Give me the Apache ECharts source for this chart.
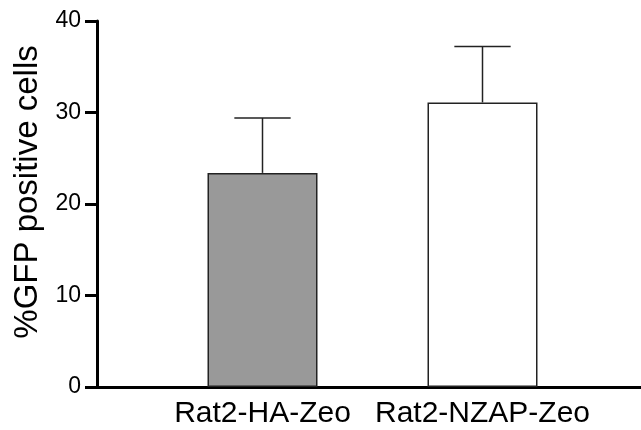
<!DOCTYPE html>
<html>
<head>
<meta charset="utf-8">
<script src="https://cdn.jsdelivr.net/npm/echarts@6/dist/echarts.min.js"></script>
<style>
  html, body { margin: 0; padding: 0; background: #fff; }
  #chart { width: 641px; height: 430px; }
</style>
</head>
<body>
<div id="chart"></div>
<script>
// data
var categories = ["Rat2-HA-Zeo", "Rat2-NZAP-Zeo"];
var means = [23.4, 31.1];
var sd = [6.0, 6.1];
var barColors = ["#999999", "#ffffff"];
var yTicks = [0, 10, 20, 30, 40];

var font = "'Liberation Sans', Arial, Helvetica, sans-serif";

var chart = echarts.init(document.getElementById("chart"));

var barData = means.map(function (m, i) {
  return { value: m, itemStyle: { color: barColors[i] } };
});
var errData = means.map(function (m, i) {
  return [i, m, m + sd[i]];
});

chart.setOption({
  animation: false,
  backgroundColor: "#fff",
  grid: [
    // axes frame
    { left: 97, right: 0, top: 21, bottom: 43 },
    // bars
    { left: 152.5, right: 48.5, top: 21, bottom: 43 }
  ],
  xAxis: [
    {
      gridIndex: 0,
      type: "value",
      min: 0,
      max: 1,
      axisLine: { show: true, onZero: false, lineStyle: { color: "#000", width: 3 } },
      axisTick: { show: false },
      axisLabel: { show: false },
      splitLine: { show: false }
    },
    {
      gridIndex: 1,
      type: "category",
      data: categories,
      axisLine: { show: false },
      axisTick: { show: false },
      axisLabel: {
        interval: 0,
        color: "#000",
        fontFamily: font,
        fontSize: 30,
        margin: 12
      }
    }
  ],
  yAxis: [
    {
      gridIndex: 0,
      type: "value",
      min: yTicks[0],
      max: yTicks[yTicks.length - 1],
      interval: 10,
      name: "%GFP positive cells",
      nameLocation: "middle",
      nameRotate: 90,
      nameGap: 50,
      nameTextStyle: {
        color: "#000",
        fontFamily: font,
        fontSize: 33,
        padding: [0, 0, 0, 24]
      },
      axisLine: { show: true, lineStyle: { color: "#000", width: 3 } },
      axisTick: { show: true, length: 12, lineStyle: { color: "#000", width: 3 } },
      axisLabel: {
        color: "#000",
        fontFamily: font,
        fontSize: 23,
        margin: 16
      },
      splitLine: { show: false }
    },
    {
      gridIndex: 1,
      type: "value",
      min: yTicks[0],
      max: yTicks[yTicks.length - 1],
      interval: 10,
      show: false
    }
  ],
  series: [
    {
      type: "bar",
      xAxisIndex: 1,
      yAxisIndex: 1,
      barWidth: "50%",
      data: barData,
      itemStyle: { borderColor: "#222", borderWidth: 1.5 }
    },
    {
      type: "custom",
      xAxisIndex: 1,
      yAxisIndex: 1,
      data: errData,
      renderItem: function (params, api) {
        var x = api.value(0);
        var p0 = api.coord([x, api.value(1)]);
        var p1 = api.coord([x, api.value(2)]);
        var half = api.size([1, 0])[0] * 0.128;
        var style = { stroke: "#222", lineWidth: 1.5 };
        return {
          type: "group",
          children: [
            { type: "line", shape: { x1: p0[0], y1: p0[1], x2: p1[0], y2: p1[1] }, style: style },
            { type: "line", shape: { x1: p1[0] - half, y1: p1[1], x2: p1[0] + half, y2: p1[1] }, style: style }
          ]
        };
      },
      z: 3
    }
  ]
});
</script>
</body>
</html>
